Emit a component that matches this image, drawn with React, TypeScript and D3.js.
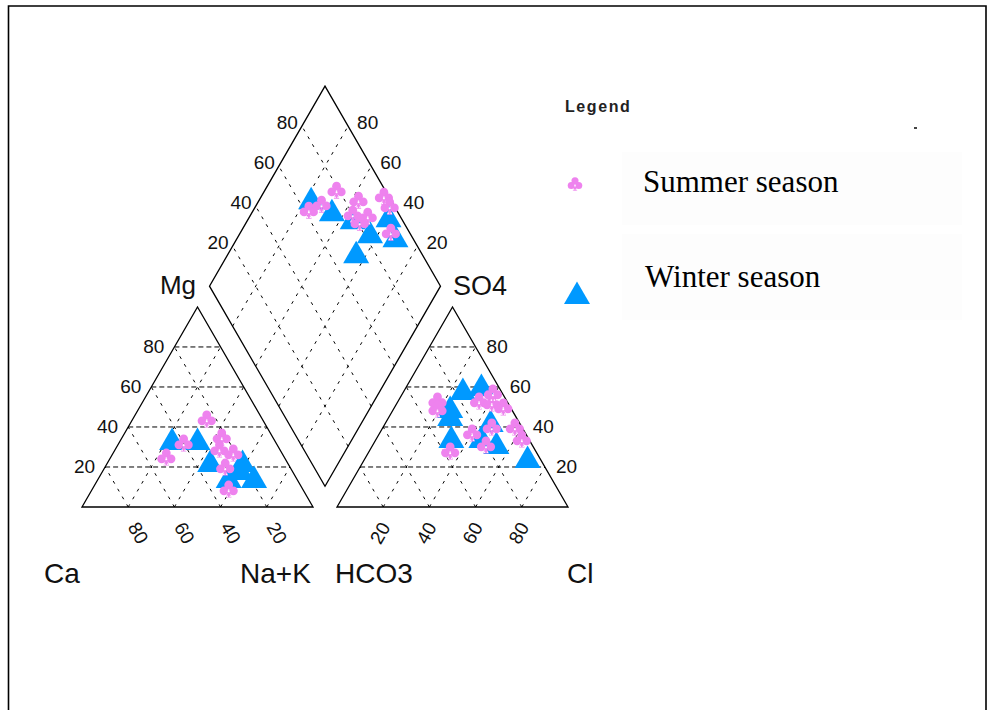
import React from 'react';
import * as d3 from 'd3';

// ---- data (percent values) ----
const ticks = [20, 40, 60, 80];

// Cation triangle (Mg %, Na+K %) ; Ca = 100 - Mg - Na+K
const summerMg = [44, 25, 32, 35, 29, 27, 9, 20];
const summerNaK = [32, 24, 28, 43, 45, 52, 59, 52];
const winterMg = [34, 34, 23, 23, 15, 15, 19];
const winterNaK = [22, 33, 44, 58, 56, 67, 59];

// Anion triangle (SO4 %, Cl %) ; HCO3 = 100 - SO4 - Cl
const summerSO4 = [53, 49, 53, 52, 50, 37, 40, 31, 40, 34, 28, 57];
const summerCl = [17, 19, 35, 41, 47, 40, 47, 49, 57, 63, 35, 39];
const winterSO4 = [59, 61, 50, 46, 35, 35, 43, 32, 25];
const winterCl = [25, 32, 24, 26, 32, 45, 45, 53, 70];

// Diamond (Ca+Mg %, SO4+Cl %)
const summerCaMg = [76, 72, 69, 57, 56, 49, 47, 42, 51, 35];
const summerSO4Cl = [62, 69, 79, 86, 80, 86, 98, 98, 81, 92];
const winterCaMg = [78, 66, 55, 40, 44, 32, 45];
const winterSO4Cl = [66, 72, 79, 95, 83, 93, 72];

const seriesNames = ['Summer season', 'Winter season'];

const PINK = '#EE82EE';
const BLUE = '#0099FF';
const FONT = "'Liberation Sans', Arial, sans-serif";

const triPath = 'M0,-11.5 L13,11 L-13,11 Z';

function Club({ x, y, k = 1 }: { x: number; y: number; k?: number }) {
  return (
    <g transform={`translate(${x},${y}) scale(${k})`}>
      <circle cx={0} cy={-4} r={4.4} fill={PINK} />
      <circle cx={-4.7} cy={1.8} r={4.4} fill={PINK} />
      <circle cx={4.7} cy={1.8} r={4.4} fill={PINK} />
      <path d="M0,1 L-2.8,8.5 L2.8,8.5 Z" fill={PINK} />
      <circle cx={0} cy={2.2} r={1} fill="#fff" />
      <circle cx={-1.5} cy={7.2} r={0.8} fill="#fff" />
      <circle cx={1.5} cy={7.2} r={0.8} fill="#fff" />
    </g>
  );
}

function Tri({ x, y }: { x: number; y: number }) {
  return <path d={triPath} transform={`translate(${x},${y})`} fill={BLUE} />;
}

export default function App() {
  const SQ3 = Math.sqrt(3) / 2;
  const S = 231;
  const H = S * SQ3;
  const BASE = 507;
  const XL = 82;
  const GAP = 24;
  const XR = XL + S + GAP;
  const CX = XL + S + GAP / 2;
  const DB = BASE - GAP * SQ3;

  const lx = d3.scaleLinear().domain([0, 100]).range([XL, XL + S]);
  const rx = d3.scaleLinear().domain([0, 100]).range([XR, XR + S]);
  const ty = d3.scaleLinear().domain([0, 100]).range([BASE, BASE - H]);
  const dx = d3.scaleLinear().domain([-100, 100]).range([CX - S / 2, CX + S / 2]);
  const dy = d3.scaleLinear().domain([0, 200]).range([DB, DB - 2 * H]);

  const cat = (mg: number, na: number): [number, number] => [lx(na + mg / 2), ty(mg)];
  const an = (so4: number, cl: number): [number, number] => [rx(cl + so4 / 2), ty(so4)];
  const dia = (a: number, b: number): [number, number] => [dx(b - a), dy(a + b)];
  const line = d3.line();

  const gridH = '5 3';
  const gridS = '3 6';

  const lines: { d: string; dash: string }[] = [];
  ticks.forEach((v) => {
    // cation triangle
    lines.push({ d: line([cat(v, 0), cat(v, 100 - v)])!, dash: gridH });
    lines.push({ d: line([cat(0, v), cat(100 - v, v)])!, dash: gridS });
    lines.push({ d: line([cat(0, 100 - v), cat(100 - v, 0)])!, dash: gridS });
    // anion triangle
    lines.push({ d: line([an(v, 0), an(v, 100 - v)])!, dash: gridH });
    lines.push({ d: line([an(0, v), an(100 - v, v)])!, dash: gridS });
    lines.push({ d: line([an(0, 100 - v), an(100 - v, 0)])!, dash: gridS });
    // diamond
    lines.push({ d: line([dia(v, 0), dia(v, 100)])!, dash: gridS });
    lines.push({ d: line([dia(0, v), dia(100, v)])!, dash: gridS });
  });

  const outlineL = line([cat(0, 0), cat(0, 100), cat(100, 0)])! + 'Z';
  const outlineR = line([an(0, 0), an(0, 100), an(100, 0)])! + 'Z';
  const outlineD = line([dia(0, 0), dia(100, 0), dia(100, 100), dia(0, 100)])! + 'Z';

  const numStyle = { fontFamily: FONT, fontSize: 19, fill: '#111' } as const;

  return (
    <svg
      width={991}
      height={710}
      style={{ position: 'absolute', left: 0, top: 0, background: '#fff' }}
    >
      <rect x={0} y={0} width={991} height={710} fill="#fff" />
      <path d="M8.5,712 V6 H986 V712" fill="none" stroke="#000" strokeWidth={1.6} />

      {/* grid */}
      <g stroke="#000" strokeWidth={1} fill="none">
        {lines.map((l, i) => (
          <path key={i} d={l.d} strokeDasharray={l.dash} />
        ))}
      </g>
      <g stroke="#000" strokeWidth={1.3} fill="none">
        <path d={outlineL} />
        <path d={outlineR} />
        <path d={outlineD} />
      </g>

      {/* cation side labels (Mg) */}
      {ticks.map((v) => {
        const [x, y] = cat(v, 0);
        return (
          <text key={'lm' + v} x={x - 10} y={y} textAnchor="end" dominantBaseline="central" {...numStyle}>
            {v}
          </text>
        );
      })}
      {/* cation bottom labels (Ca) */}
      {ticks.map((v) => {
        const [x] = cat(0, v);
        const lxp = x + 10;
        const lyp = 533;
        return (
          <text
            key={'lc' + v}
            x={lxp}
            y={lyp}
            textAnchor="middle"
            dominantBaseline="central"
            transform={`rotate(60,${lxp},${lyp})`}
            {...numStyle}
          >
            {100 - v}
          </text>
        );
      })}
      {/* anion side labels (SO4) */}
      {ticks.map((v) => {
        const [x, y] = an(v, 100 - v);
        return (
          <text key={'rs' + v} x={x + 11} y={y} textAnchor="start" dominantBaseline="central" {...numStyle}>
            {v}
          </text>
        );
      })}
      {/* anion bottom labels (Cl) */}
      {ticks.map((v) => {
        const [x] = an(0, v);
        const lxp = x - 3;
        const lyp = 533;
        return (
          <text
            key={'rc' + v}
            x={lxp}
            y={lyp}
            textAnchor="middle"
            dominantBaseline="central"
            transform={`rotate(-60,${lxp},${lyp})`}
            {...numStyle}
          >
            {v}
          </text>
        );
      })}
      {/* diamond labels */}
      {ticks.map((v) => {
        const [x, y] = dia(100, v);
        return (
          <text key={'dl' + v} x={x - 4} y={y - 4} textAnchor="end" dominantBaseline="central" {...numStyle}>
            {v}
          </text>
        );
      })}
      {ticks.map((v) => {
        const [x, y] = dia(v, 100);
        return (
          <text key={'dr' + v} x={x + 9} y={y - 4} textAnchor="start" dominantBaseline="central" {...numStyle}>
            {v}
          </text>
        );
      })}

      {/* axis names */}
      <g fontFamily={FONT} fill="#111">
        <text x={196} y={294} textAnchor="end" fontSize={26}>Mg</text>
        <text x={453} y={295} fontSize={27}>SO4</text>
        <text x={44} y={583} fontSize={28}>Ca</text>
        <text x={240} y={583} fontSize={28}>Na+K</text>
        <text x={335} y={583} fontSize={28}>HCO3</text>
        <text x={567} y={583} fontSize={28}>Cl</text>
      </g>

      {/* winter triangles */}
      {winterMg.map((m, i) => {
        const [x, y] = cat(m, winterNaK[i]);
        return <Tri key={'wc' + i} x={x} y={y} />;
      })}
      {winterSO4.map((s, i) => {
        const [x, y] = an(s, winterCl[i]);
        return <Tri key={'wa' + i} x={x} y={y} />;
      })}
      {winterCaMg.map((a, i) => {
        const [x, y] = dia(a, winterSO4Cl[i]);
        return <Tri key={'wd' + i} x={x} y={y} />;
      })}

      {/* summer clubs */}
      {summerMg.map((m, i) => {
        const [x, y] = cat(m, summerNaK[i]);
        return <Club key={'sc' + i} x={x} y={y} />;
      })}
      {summerSO4.map((s, i) => {
        const [x, y] = an(s, summerCl[i]);
        return <Club key={'sa' + i} x={x} y={y} />;
      })}
      {summerCaMg.map((a, i) => {
        const [x, y] = dia(a, summerSO4Cl[i]);
        return <Club key={'sd' + i} x={x} y={y} />;
      })}

      {/* legend */}
      <text x={565} y={112} fontFamily={FONT} fontSize={16} fontWeight="bold" letterSpacing={1.6} fill="#222">
        Legend
      </text>
      <rect x={914} y={127} width={3} height={2} fill="#444" />
      <rect x={622} y={152} width={340} height={73} fill="#fdfdfd" />
      <rect x={622} y={234} width={340} height={86} fill="#fdfdfd" />
      <Club x={575} y={184} k={0.8} />
      <text x={643} y={192} fontFamily="'Liberation Serif', 'Times New Roman', serif" fontSize={31} fill="#000">
        {seriesNames[0]}
      </text>
      <Tri x={577} y={293} />
      <text x={645} y={287} fontFamily="'Liberation Serif', 'Times New Roman', serif" fontSize={31} fill="#000">
        {seriesNames[1]}
      </text>
    </svg>
  );
}
